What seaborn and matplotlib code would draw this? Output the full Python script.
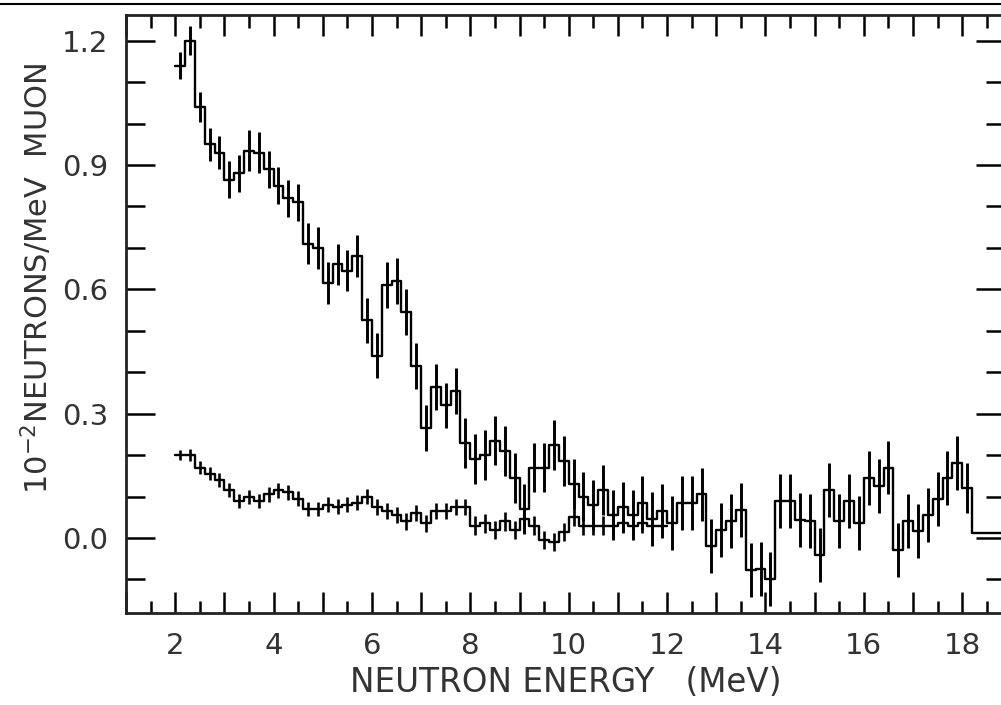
import numpy as np
import pandas as pd
import matplotlib
matplotlib.use("Agg")
import matplotlib.pyplot as plt
import seaborn as sns
from matplotlib.ticker import FixedLocator, MultipleLocator, FuncFormatter
from matplotlib.lines import Line2D

# ---------------- data ----------------
bin_start = 2.0       # MeV, first bin lower edge
bin_width = 0.2       # MeV

upper_values = [1.14, 1.20, 1.04, 0.95, 0.93, 0.865, 0.88, 0.935, 0.93, 0.89,
                0.85, 0.82, 0.81, 0.71, 0.70, 0.615, 0.66, 0.645, 0.68, 0.525,
                0.44, 0.61, 0.62, 0.545, 0.415, 0.265, 0.365, 0.32, 0.355, 0.23,
                0.19, 0.20, 0.235, 0.21, 0.145, 0.07, 0.17, 0.17, 0.225, 0.185,
                0.13, 0.10, 0.08, 0.115, 0.055, 0.075, 0.055, 0.085, 0.045, 0.065,
                0.036, 0.085, 0.085, 0.105, -0.02, 0.02, 0.04, 0.068, -0.077, -0.075,
                -0.10, 0.09, 0.09, 0.043, 0.04, -0.04, 0.115, 0.04, 0.09, 0.036,
                0.145, 0.125, 0.17, -0.03, 0.04, 0.017, 0.055, 0.095, 0.145, 0.18,
                0.12]
upper_errors = [0.032, 0.035, 0.035, 0.04, 0.04, 0.045, 0.045, 0.05, 0.05, 0.045,
                0.045, 0.045, 0.045, 0.05, 0.05, 0.05, 0.05, 0.05, 0.05, 0.055,
                0.055, 0.055, 0.055, 0.055, 0.055, 0.055, 0.055, 0.055, 0.055, 0.06,
                0.06, 0.06, 0.06, 0.06, 0.06, 0.06, 0.06, 0.06, 0.06, 0.06,
                0.06, 0.06, 0.06, 0.06, 0.06, 0.06, 0.06, 0.065, 0.065, 0.065,
                0.065, 0.065, 0.065, 0.065, 0.065, 0.065, 0.065, 0.065, 0.065, 0.065,
                0.065, 0.065, 0.065, 0.065, 0.065, 0.065, 0.065, 0.065, 0.065, 0.065,
                0.065, 0.065, 0.065, 0.065, 0.065, 0.065, 0.065, 0.065, 0.065, 0.065,
                0.06]
upper_tail_value = 0.012   # flat level beyond the last bin
upper_tail_end = 19.0

lower_values = [0.20, 0.20, 0.17, 0.155, 0.14, 0.115, 0.09, 0.10, 0.09, 0.105,
                0.115, 0.11, 0.095, 0.07, 0.07, 0.08, 0.075, 0.08, 0.085, 0.10,
                0.075, 0.065, 0.055, 0.04, 0.06, 0.035, 0.065, 0.065, 0.075, 0.075,
                0.03, 0.035, 0.02, 0.04, 0.02, 0.045, 0.03, -0.005, -0.01, 0.015,
                0.05, 0.03, 0.03, 0.03, 0.03, 0.035, 0.03, 0.035, 0.03, 0.03]
lower_errors = [0.012, 0.015, 0.016, 0.016, 0.016, 0.017, 0.017, 0.017, 0.017, 0.017,
                0.018, 0.018, 0.018, 0.018, 0.018, 0.018, 0.018, 0.018, 0.018, 0.018,
                0.02, 0.02, 0.02, 0.02, 0.02, 0.02, 0.02, 0.02, 0.02, 0.02,
                0.022, 0.022, 0.022, 0.022, 0.022, 0.022, 0.022, 0.022, 0.022, 0.022,
                0.022, 0.022, 0.022, 0.022, 0.022, 0.022, 0.022, 0.022, 0.022, 0.022]

x_tick_labels = [2, 4, 6, 8, 10, 12, 14, 16, 18]
y_tick_labels = [0.0, 0.3, 0.6, 0.9, 1.2]

xlabel = "NEUTRON ENERGY   (MeV)"
ylabel = r"10$^{-2}$NEUTRONS/MeV  MUON"

# ---------------- build tables ----------------
def step_frame(vals, tail=None, tail_end=None):
    n = len(vals)
    edges = bin_start + bin_width * np.arange(n + 1)
    y = list(vals) + [vals[-1]]
    if tail is not None:
        edges = np.r_[edges[:-1], edges[-1], tail_end]
        y = list(vals) + [tail, tail]
    return pd.DataFrame({"E": edges, "y": y})

def centers(vals):
    return bin_start + bin_width * (np.arange(len(vals)) + 0.5)

up_df = step_frame(upper_values, upper_tail_value, upper_tail_end)
lo_df = step_frame(lower_values)

# ---------------- figure ----------------
sns.set_style("ticks")
plt.rcParams["font.family"] = ["DejaVu Sans"]

fig = plt.figure(figsize=(10.01, 7.05), dpi=100)
ax = fig.add_axes([126 / 1001, 92 / 705, 879 / 1001, 598 / 705])

sns.lineplot(data=up_df, x="E", y="y", ax=ax, drawstyle="steps-post",
             estimator=None, sort=False, color="black", linewidth=1.7)
sns.lineplot(data=lo_df, x="E", y="y", ax=ax, drawstyle="steps-post",
             estimator=None, sort=False, color="black", linewidth=1.7)
ax.errorbar(centers(upper_values), upper_values, yerr=upper_errors, fmt="none",
            ecolor="black", elinewidth=2.1, capsize=0)
ax.errorbar(centers(lower_values), lower_values, yerr=lower_errors, fmt="none",
            ecolor="black", elinewidth=1.9, capsize=0)

ax.set_xlim(1.0, 18.87)
ax.set_ylim(-0.181, 1.262)

ax.xaxis.set_major_locator(MultipleLocator(1))
ax.xaxis.set_minor_locator(MultipleLocator(0.5))
ax.xaxis.set_major_formatter(FuncFormatter(
    lambda v, p: f"{int(round(v))}" if int(round(v)) in x_tick_labels else ""))
ax.yaxis.set_major_locator(FixedLocator(y_tick_labels))
ax.yaxis.set_minor_locator(MultipleLocator(0.1))
ax.yaxis.set_major_formatter(FuncFormatter(lambda v, p: f"{v:.1f}"))

ax.tick_params(axis="both", which="both", direction="in", top=True, right=True,
               color="black", width=1.8)
ax.tick_params(axis="x", which="major", length=15, labelsize=21, pad=14)
ax.tick_params(axis="x", which="minor", length=9)
ax.tick_params(axis="y", which="major", length=21, labelsize=21, pad=13)
ax.tick_params(axis="y", which="minor", length=14)
for lab in ax.get_xticklabels() + ax.get_yticklabels():
    lab.set_color("#333333")

for s in ax.spines.values():
    s.set_linewidth(2.0)
    s.set_color("#222222")

ax.set_xlabel(xlabel, fontsize=23.5, color="#333333", labelpad=4)
ax.set_ylabel(ylabel, fontsize=22, color="#333333")
ax.yaxis.set_label_coords(-0.081, 0.56)

fig.add_artist(Line2D([0, 1], [1 - 4 / 705] * 2, transform=fig.transFigure,
                      color="black", linewidth=1.5))

fig.savefig("out.png", dpi=100)
